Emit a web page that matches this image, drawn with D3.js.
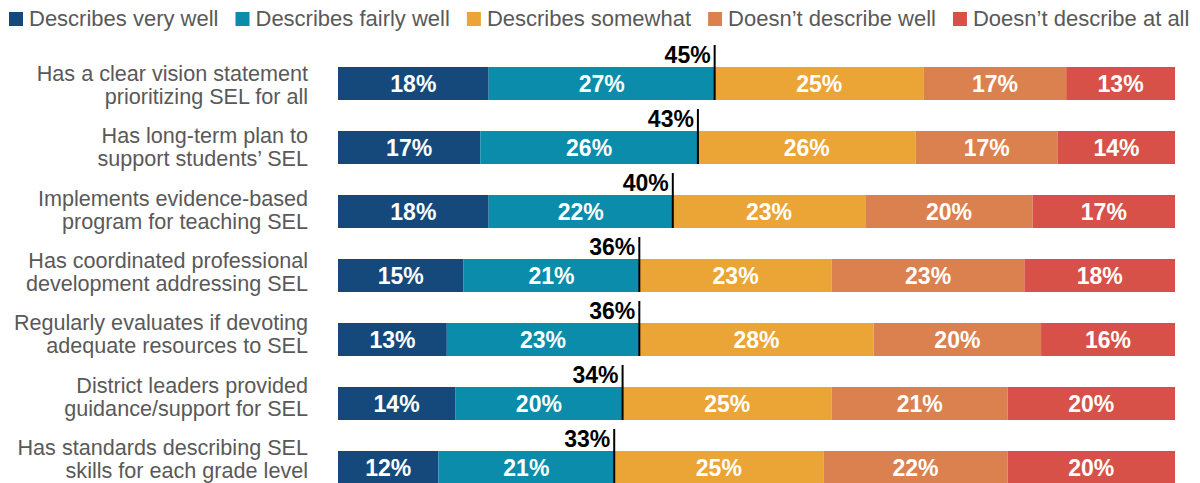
<!DOCTYPE html>
<html>
<head>
<meta charset="utf-8">
<script src="https://cdn.jsdelivr.net/npm/d3@7"></script>
<style>
  body { margin: 0; background: #fff; }
  svg { display: block; font-family: "Liberation Sans", Arial, sans-serif; }
</style>
</head>
<body>
<script>
var categories = [
	["Has a clear vision statement", "prioritizing SEL for all"],
	["Has long-term plan to", "support students\u2019 SEL"],
	["Implements evidence-based", "program for teaching SEL"],
	["Has coordinated professional", "development addressing SEL"],
	["Regularly evaluates if devoting", "adequate resources to SEL"],
	["District leaders provided", "guidance/support for SEL"],
	["Has standards describing SEL", "skills for each grade level"]
];
var seriesNames = ["Describes very well", "Describes fairly well", "Describes somewhat", "Doesn\u2019t describe well", "Doesn\u2019t describe at all"];
var veryWell   = [18, 17, 18, 15, 13, 14, 12];
var fairlyWell = [27, 26, 22, 21, 23, 20, 21];
var somewhat   = [25, 26, 23, 23, 28, 25, 25];
var notWell    = [17, 17, 20, 23, 20, 21, 22];
var notAtAll   = [13, 14, 17, 18, 16, 20, 20];
var totals     = [45, 43, 40, 36, 36, 34, 33];

var colors = ["#15497b", "#0b8caa", "#eaa536", "#db8150", "#d85148"];

var width = 1200
var height = 483
var left = 338
var right = 1175
var top0 = 67
var barH = 33
var step = 64
var n = categories.length

var svg = d3.select("body")
			.append("svg")
			.attr("width", width)
			.attr("height", height)

var x = d3.scaleLinear().domain([0, 100]).range([left, right])
var y = d3.scaleBand()
			.domain(d3.range(n))
			.range([top0, top0 + step * (n - 1) + barH])
			.paddingInner((step - barH) / step)
			.paddingOuter(0)

// labels on the left sit on a slightly tighter spacing than the bars
var yLabel = d3.scalePoint()
			.domain(d3.range(n))
			.range([81, 455])

// stack the series
var table = categories.map(function(c, i) {
	return { i: i, a: veryWell[i], b: fairlyWell[i], c: somewhat[i], d: notWell[i], e: notAtAll[i] }
})
var stack = d3.stack().keys(["a", "b", "c", "d", "e"])(table)

var layers = svg.selectAll("g.layer")
			.data(stack)
			.enter()
			.append("g")
			.attr("class", "layer")
			.attr("fill", function(d, i) { return colors[i] })

layers.selectAll("rect")
			.data(function(d) { return d })
			.enter()
			.append("rect")
			.attr("x", function(d) { return x(d[0]) })
			.attr("y", function(d) { return y(d.data.i) })
			.attr("width", function(d) { return x(d[1]) - x(d[0]) })
			.attr("height", y.bandwidth())

layers.selectAll("text")
			.data(function(d) { return d })
			.enter()
			.append("text")
			.attr("x", function(d) { return (x(d[0]) + x(d[1])) / 2 })
			.attr("y", function(d) { return y(d.data.i) + y.bandwidth() / 2 + 8 })
			.attr("text-anchor", "middle")
			.attr("fill", "#fff")
			.attr("font-weight", "bold")
			.attr("font-size", 23)
			.text(function(d) { return (d[1] - d[0]) + "%" })

// total markers
var marks = svg.selectAll("g.total")
			.data(totals)
			.enter()
			.append("g")
			.attr("class", "total")

marks.append("line")
			.attr("x1", function(d) { return x(d) })
			.attr("x2", function(d) { return x(d) })
			.attr("y1", function(d, i) { return y(i) - 22 })
			.attr("y2", function(d, i) { return y(i) + y.bandwidth() })
			.attr("stroke", "#000")
			.attr("stroke-width", 2)

marks.append("text")
			.attr("x", function(d) { return x(d) - 4 })
			.attr("y", function(d, i) { return y(i) - 4 })
			.attr("text-anchor", "end")
			.attr("font-weight", "bold")
			.attr("font-size", 23)
			.attr("fill", "#000")
			.text(function(d) { return d + "%" })

// category labels
var labels = svg.selectAll("text.cat")
			.data(categories)
			.enter()
			.append("text")
			.attr("class", "cat")
			.attr("text-anchor", "end")
			.attr("font-size", 21.6)
			.attr("fill", "#595959")

labels.selectAll("tspan")
			.data(function(d, i) { return d.map(function(t, j) { return { t: t, j: j, i: i } }) })
			.enter()
			.append("tspan")
			.attr("x", 308)
			.attr("y", function(d) { return yLabel(d.i) + d.j * 23 })
			.text(function(d) { return d.t })

// legend
var lx = 9
seriesNames.forEach(function(name, i) {
	svg.append("rect")
		.attr("x", lx)
		.attr("y", 12)
		.attr("width", 14)
		.attr("height", 14)
		.attr("fill", colors[i])
	var t = svg.append("text")
		.attr("x", lx + 20)
		.attr("y", 26)
		.attr("font-size", 22)
		.attr("fill", "#595959")
		.text(name)
	lx = lx + 20 + t.node().getComputedTextLength() + 17
})
</script>
</body>
</html>
